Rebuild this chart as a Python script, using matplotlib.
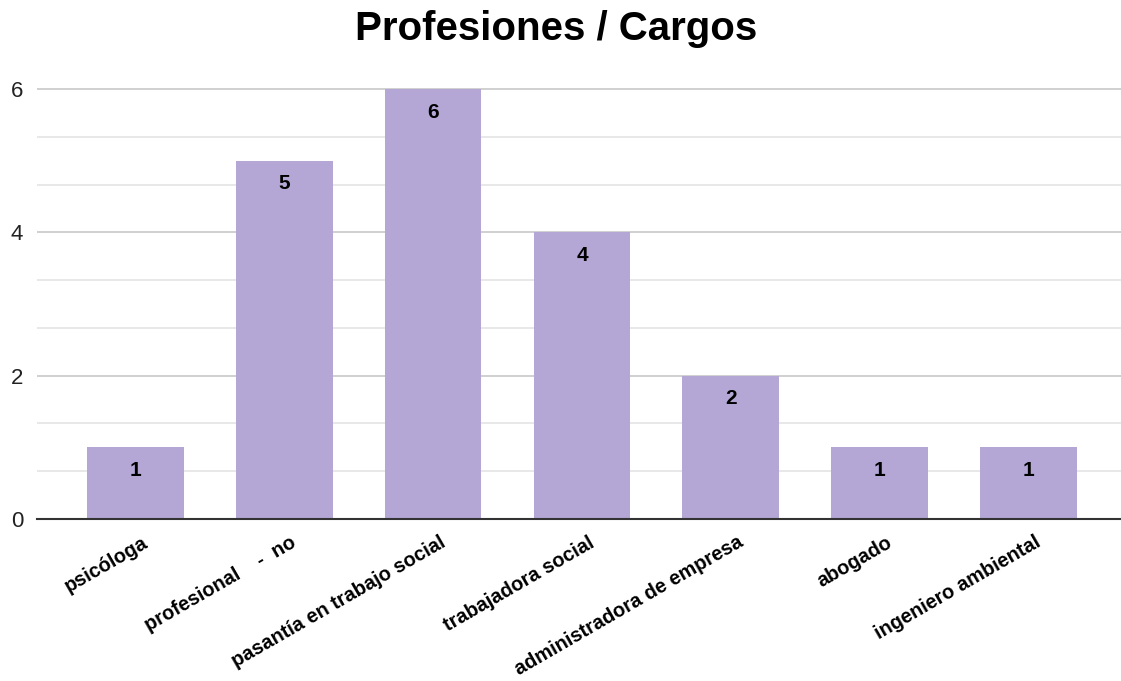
#!/usr/bin/env python3

"""Bar chart: Profesiones / Cargos"""

import matplotlib.pyplot as plt
import matplotlib.transforms as mtrans
import numpy as np

CATEGORIES = ['psicóloga', 'profesional    -  no', 'pasantía en trabajo social',
              'trabajadora social', 'administradora de empresa', 'abogado',
              'ingeniero ambiental']
COUNTS = [1, 5, 6, 4, 2, 1, 1]

BAR_COLOR = '#b4a7d6'


def plot_graph(output_file):
    """
      Create the graph
      """
    plt.rcParams['font.family'] = ['Liberation Sans', 'DejaVu Sans']
    fig = plt.figure(figsize=(11.21, 6.81), dpi=100)
    ax1 = fig.add_axes([0.033, 0.238, 0.967, 0.633])

    x_pos = np.arange(len(CATEGORIES))
    ax1.bar(x_pos, COUNTS, width=0.65, color=BAR_COLOR, zorder=3)

    # value labels inside the bars
    for xp, val in zip(x_pos, COUNTS):
        ax1.text(xp, val - 0.32, str(val), ha='center', va='center',
                 fontsize=15, fontweight='bold', color='black', zorder=4)

    # Set Axes stuff
    ax1.set_xlim(-0.66, 6.62)
    ax1.set_ylim(0, 6.02)
    ax1.set_yticks([0, 2, 4, 6])
    ax1.set_yticks(np.arange(0, 6.01, 2 / 3), minor=True)
    ax1.grid(which='major', axis='y', color='#c8c8c8', linewidth=1.2, zorder=0)
    ax1.grid(which='minor', axis='y', color='#e4e4e4', linewidth=1.2, zorder=0)
    ax1.tick_params(axis='y', which='both', length=0, labelsize=16, pad=10,
                    labelcolor='#222222')
    ax1.tick_params(axis='x', length=0, pad=10)
    for side in ['top', 'right', 'left']:
        ax1.spines[side].set_visible(False)
    ax1.spines['bottom'].set_color('#333333')
    ax1.spines['bottom'].set_linewidth(1.5)
    ax1.spines['bottom'].set_zorder(5)

    ax1.set_xticks(x_pos)
    ax1.set_xticklabels(CATEGORIES, rotation=30, ha='right',
                        rotation_mode='anchor', fontsize=14.3, fontweight='bold')
    # nudge labels a bit to the right of the bar centres
    shift = mtrans.ScaledTranslation(6 / 100, 0, fig.dpi_scale_trans)
    for lbl in ax1.get_xticklabels():
        lbl.set_transform(lbl.get_transform() + shift)

    fig.suptitle('Profesiones / Cargos', fontsize=29, fontweight='bold',
                 x=0.496, y=0.985, va='top')
    plt.savefig(fname=output_file, format='png', dpi=100)


def main():
    """
      This is the main loop
      """
    plot_graph('out.png')


if __name__ == "__main__":
    main()
